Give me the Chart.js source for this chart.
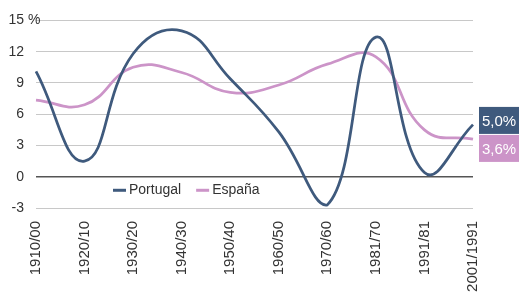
<!DOCTYPE html>
<html>
<head>
<meta charset="utf-8">
<script src="https://cdn.jsdelivr.net/npm/chart.js@4.4.0/dist/chart.umd.min.js"></script>
<style>
  html, body { margin: 0; padding: 0; background: #fff; }
  #wrap { width: 519px; height: 294px; position: relative; }
</style>
</head>
<body>
<div id="wrap"><canvas id="chart"></canvas></div>
<script>
// Chart data
const decades = ['1910/00', '1920/10', '1930/20', '1940/30', '1950/40', '1960/50', '1970/60', '1981/70', '1991/81', '2001/1991'];
const portugal = [10.1, 1.5, 11.8, 14.0, 9.4, 4.3, -2.7, 13.4, 0.4, 5.0];
const espana = [7.35, 6.9, 10.5, 10.0, 8.1, 8.8, 10.8, 11.5, 4.5, 3.6];
const yTicks = [-3, 0, 3, 6, 9, 12, 15];
const endLabels = ['5,0%', '3,6%'];

const blue = '#3f5a7d';
const pink = '#cc94c8';
const font = "'Liberation Sans', Arial, sans-serif";

// Draws the inline legend, the "%" unit and the end value boxes
const extras = {
    id: 'extras',
    afterDraw(chart) {
        const ctx = chart.ctx;
        const x = chart.scales.x;
        const y = chart.scales.y;
        ctx.save();
        ctx.font = '14px ' + font;
        ctx.textBaseline = 'middle';

        // unit next to the top tick
        ctx.fillStyle = '#333';
        ctx.textAlign = 'left';
        ctx.fillText(' %', 24, y.getPixelForValue(15));

        // legend inside the plot
        const ly = y.getPixelForValue(-1.3);
        const items = [['Portugal', blue], ['España', pink]];
        let lx = 113;
        items.forEach(([name, color]) => {
            ctx.strokeStyle = color;
            ctx.lineWidth = 3;
            ctx.beginPath();
            ctx.moveTo(lx, ly);
            ctx.lineTo(lx + 13, ly);
            ctx.stroke();
            ctx.fillStyle = '#333';
            ctx.fillText(name, lx + 16, ly);
            lx += 16 + ctx.measureText(name).width + 15;
        });

        // value boxes at the right end, pushed apart when they overlap
        const h = 27;
        let c1 = y.getPixelForValue(portugal[portugal.length - 1]);
        let c2 = y.getPixelForValue(espana[espana.length - 1]);
        if (c2 - c1 < h + 1) {
            const mid = (c1 + c2) / 2 + 2.5;
            c1 = mid - 14;
            c2 = mid + 14;
        }
        const bx = x.right + 6;
        [[c1, blue, endLabels[0]], [c2, pink, endLabels[1]]].forEach(([c, color, txt]) => {
            ctx.fillStyle = color;
            ctx.fillRect(bx, c - h / 2, chart.width - bx, h);
            ctx.fillStyle = '#fff';
            ctx.font = '15px ' + font;
            ctx.textAlign = 'left';
            ctx.fillText(txt, bx + 3, c + 1);
        });
        ctx.restore();
    }
};

const ctx = document.getElementById('chart').getContext('2d');
const chart = new Chart(ctx, {
    type: 'line',
    data: {
        labels: decades,
        datasets: [
            {
                label: 'Portugal',
                data: portugal,
                borderColor: blue,
                borderWidth: 2.75,
                pointRadius: 0,
                tension: 0.45,
                fill: false
            },
            {
                label: 'España',
                data: espana,
                borderColor: pink,
                borderWidth: 2.75,
                pointRadius: 0,
                tension: 0.45,
                fill: false
            }
        ]
    },
    options: {
        responsive: true,
        maintainAspectRatio: false,
        animation: false,
        layout: { padding: { top: 15, right: 46, left: 0, bottom: 0 } },
        plugins: {
            legend: { display: false },
            tooltip: { enabled: false }
        },
        scales: {
            x: {
                offset: false,
                grid: { display: false, drawTicks: false },
                border: { display: false },
                ticks: {
                    minRotation: 90,
                    maxRotation: 90,
                    padding: 13,
                    color: '#333',
                    font: { family: font, size: 15 }
                },
                afterFit(scale) { scale.height = 86; }
            },
            y: {
                min: -3,
                max: 15,
                afterBuildTicks(scale) { scale.ticks = yTicks.map(v => ({ value: v })); },
                grid: {
                    drawTicks: false,
                    color: c => c.tick && c.tick.value === 0 ? '#555' : '#c8c8c8',
                    lineWidth: c => c.tick && c.tick.value === 0 ? 1.5 : 1
                },
                border: { display: false },
                ticks: {
                    padding: 12,
                    color: '#333',
                    font: { family: font, size: 14 },
                    callback: v => String(v)
                },
                afterFit(scale) { scale.width = 36; }
            }
        }
    },
    plugins: [extras]
});
</script>
</body>
</html>
